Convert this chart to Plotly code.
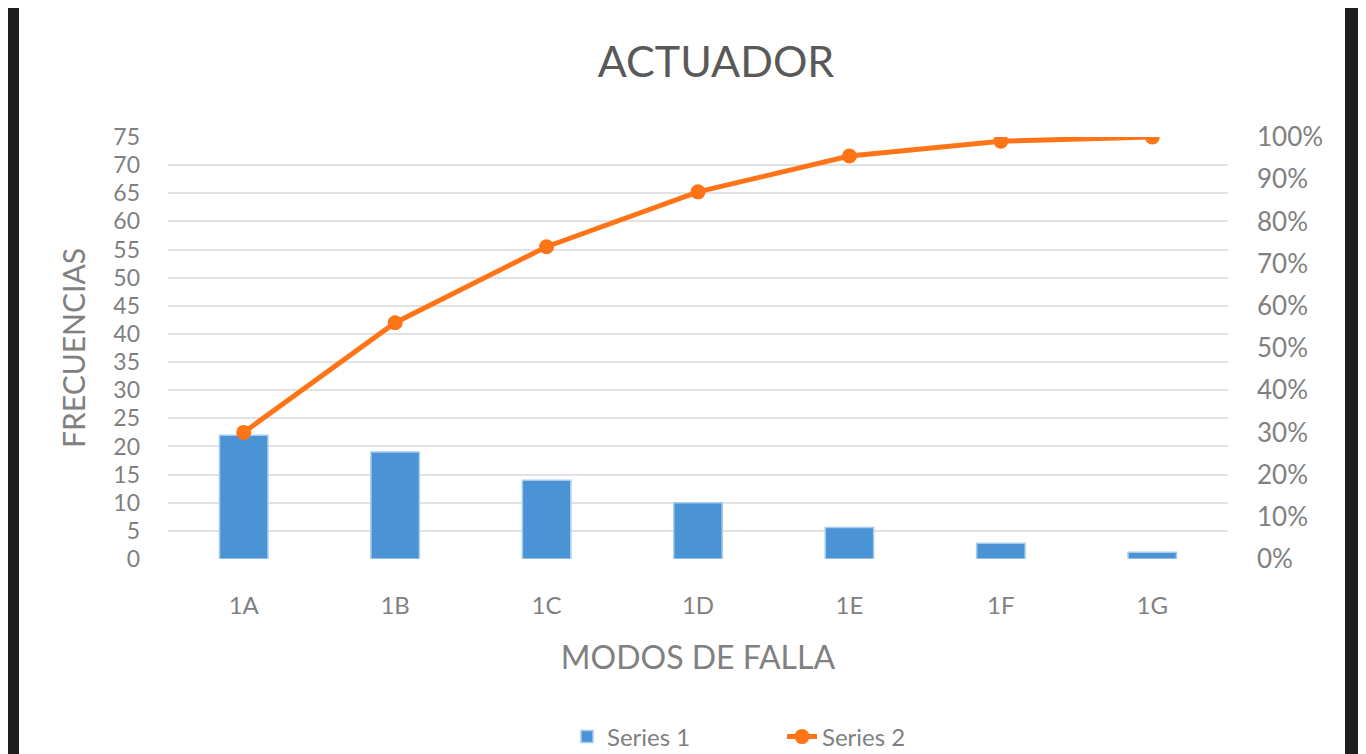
import plotly.graph_objects as go
from plotly.subplots import make_subplots

modos = ['1A', '1B', '1C', '1D', '1E', '1F', '1G']
frecuencias = [22, 19, 14, 10, 5.6, 2.8, 1.2]
acumulado = [0.30, 0.56, 0.74, 0.87, 0.955, 0.99, 1.0]

y_ticks = list(range(0, 80, 5))
y2_ticks = [0, 0.1, 0.2, 0.3, 0.4, 0.5, 0.6, 0.7, 0.8, 0.9, 1.0]

font_family = "Lato, 'Open Sans', sans-serif"
grey = '#808080'

# the page has an 8px body margin, so the figure is 8px smaller than the window
W, H = 1358, 746
L, R, T, B = 160, 138, 129, 195
pw = W - L - R
ph = H - T - B

fig = make_subplots(specs=[[{"secondary_y": True}]])
fig.add_trace(go.Bar(x=modos, y=frecuencias, name='Series 1',
                     marker=dict(color='#4A94D6', line=dict(color='#A8CCEE', width=1.5))),
              secondary_y=False)
fig.add_trace(go.Scatter(x=modos, y=acumulado, name='Series 2', mode='lines+markers',
                         line=dict(color='#FF7417', width=5),
                         marker=dict(color='#FF7417', size=15)),
              secondary_y=True)

fig.update_layout(
    width=W, height=H,
    margin=dict(l=L, r=R, t=T, b=B, autoexpand=False),
    paper_bgcolor='white', plot_bgcolor='white',
    bargap=0.68,
    font=dict(family=font_family, color=grey),
    title=dict(text='ACTUADOR', x=708 / W, xref='container', xanchor='center',
               y=1 - 54 / H, yref='container', yanchor='middle',
               font=dict(size=43, color='#595959')),
    legend=dict(orientation='h', x=559 / W, xref='container', xanchor='left',
                y=1 - 729 / H, yref='container', yanchor='middle',
                entrywidth=170, entrywidthmode='pixels',
                font=dict(size=24, color=grey)),
    shapes=[
        dict(type='rect', xref='paper', yref='paper', x0=-L / pw, x1=(11 - L) / pw,
             y0=-1, y1=2, fillcolor='#1e1e1e', line=dict(width=0), layer='above'),
        dict(type='rect', xref='paper', yref='paper', x0=(1337 - L) / pw, x1=2,
             y0=-1, y1=2, fillcolor='#1e1e1e', line=dict(width=0), layer='above'),
    ],
)

fig.update_xaxes(title=dict(text='MODOS DE FALLA', font=dict(size=32, color=grey), standoff=28),
                 domain=[0, 1], tickfont=dict(size=24, color=grey), ticklabelstandoff=30,
                 automargin=False, showline=False, showgrid=False, zeroline=False)
fig.update_yaxes(title=dict(text='FRECUENCIAS', font=dict(size=30, color=grey), standoff=18),
                 range=[0, 75], tickvals=y_ticks, tickfont=dict(size=23, color=grey),
                 ticklabelstandoff=27, showgrid=True, gridcolor='#e2e2e2', gridwidth=2,
                 zeroline=False, showline=False, automargin=False, secondary_y=False)
fig.update_yaxes(range=[0, 1.0], tickvals=y2_ticks, tickformat='.0%',
                 tickfont=dict(size=26, color=grey), ticklabelstandoff=28,
                 showgrid=False, zeroline=False, showline=False, automargin=False,
                 secondary_y=True)

fig.write_html("out.html")
